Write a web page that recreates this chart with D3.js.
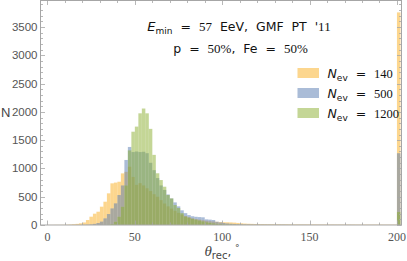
<!DOCTYPE html>
<html>
<head>
<meta charset="utf-8">
<script src="https://cdn.jsdelivr.net/npm/d3@7"></script>
<style>
  body { margin: 0; background: #fff; }
  svg { display: block; }
  tspan { white-space: pre; }
</style>
</head>
<body>
<div id="chart"></div>
<script>
// histogram bins: 2 degree wide, left edges 0..200 (200 = failed reconstructions)
var binWidth = 2;
var binEdges = d3.range(0, 201, binWidth);

var seriesNames = ["140", "500", "1200"];
var seriesColors = ["#f9ad1e", "#5579af", "#89ad2d"];

var counts140 = [2, 2, 3, 3, 4, 6, 9, 14, 20, 30, 45, 88, 147, 200, 235, 324, 412, 560, 737, 750,
  765, 913, 940, 1030, 850, 710, 740, 700, 650, 600, 545, 500, 440, 380, 330, 290, 250, 215, 185, 160,
  140, 120, 105, 95, 85, 75, 68, 62, 56, 52, 50, 48, 46, 42, 36, 30, 25, 22, 20, 18,
  17, 16, 15, 14, 14, 13, 13, 12, 12, 12, 11, 11, 11, 10, 10, 10, 10, 9, 9, 9,
  9, 9, 8, 8, 8, 8, 8, 8, 7, 7, 7, 7, 7, 7, 7, 7, 6, 6, 6, 6,
  3760];
var counts500 = [0, 0, 0, 0, 0, 0, 0, 0, 0, 1, 2, 5, 10, 20, 35, 60, 118, 194, 294, 383,
  530, 700, 1150, 1380, 1290, 1300, 1290, 1295, 1270, 1100, 970, 830, 700, 620, 540, 470, 400, 330, 260, 210,
  175, 155, 145, 140, 136, 100, 95, 88, 58, 45, 35, 28, 22, 18, 14, 11, 9, 8, 7, 6,
  6, 5, 5, 5, 4, 4, 4, 4, 3, 3, 3, 3, 3, 3, 2, 2, 2, 2, 2, 2,
  2, 2, 2, 2, 2, 2, 2, 1, 1, 1, 1, 1, 1, 1, 1, 1, 1, 1, 1, 1,
  1270];
var counts1200 = [0, 0, 0, 0, 0, 0, 0, 0, 0, 0, 0, 0, 0, 0, 0, 0, 0, 5, 15, 58,
  147, 323, 700, 1320, 1650, 1740, 1975, 2060, 1975, 1700, 1240, 915, 795, 677, 530, 470, 353, 300, 210, 150,
  130, 110, 95, 80, 65, 50, 40, 30, 22, 16, 12, 9, 7, 5, 4, 3, 3, 2, 2, 1,
  1, 1, 1, 1, 1, 1, 1, 1, 1, 0, 0, 0, 0, 0, 0, 0, 0, 0, 0, 0,
  0, 0, 0, 0, 0, 0, 0, 0, 0, 0, 0, 0, 0, 0, 0, 0, 0, 0, 0, 0,
  230];
var allCounts = [counts140, counts500, counts1200];

var xTicks = [0, 50, 100, 150, 200];
var yTicks = [0, 500, 1000, 1500, 2000, 2500, 3000, 3500];

var W = 407, H = 261;
var pLeft = 40.5, pRight = 401.5, pTop = 0.5, pBottom = 225;

var svg = d3.select("#chart").append("svg")
    .attr("width", W)
    .attr("height", H);

var x = d3.scaleLinear().domain([-4, 202.6]).range([pLeft, pRight]);
var y = d3.scaleLinear().domain([0, 3970]).range([pBottom, pTop]);

// bars, one layer per series, drawn with transparency so overlaps mix
allCounts.forEach(function(cnt, k) {
  svg.append("g")
    .selectAll("rect")
    .data(cnt)
    .enter().append("rect")
      .attr("x", function(d, i) { return x(binEdges[i]); })
      .attr("width", function(d, i) { return x(binEdges[i] + binWidth) - x(binEdges[i]); })
      .attr("y", function(d) { return y(d); })
      .attr("height", function(d) { return pBottom - y(d); })
      .attr("fill", seriesColors[k])
      .attr("fill-opacity", 0.5)
      .attr("stroke", "#ffffff")
      .attr("stroke-opacity", 0.08)
      .attr("stroke-width", 0.5);
});

// frame
var frameColor = "#a6a6a6";
svg.append("rect")
    .attr("x", pLeft).attr("y", pTop)
    .attr("width", pRight - pLeft).attr("height", pBottom - pTop)
    .attr("fill", "none")
    .attr("stroke", frameColor)
    .attr("stroke-width", 1);

var ticks = svg.append("g").attr("stroke", frameColor).attr("stroke-width", 0.8);
d3.range(0, 201, 10).forEach(function(v) {
  var len = v % 50 === 0 ? 4.5 : 2.5;
  var px = Math.round(x(v)) + 0.5;
  ticks.append("line").attr("x1", px).attr("x2", px).attr("y1", pBottom).attr("y2", pBottom - len);
  ticks.append("line").attr("x1", px).attr("x2", px).attr("y1", pTop).attr("y2", pTop + len);
});
d3.range(0, 3901, 100).forEach(function(v) {
  var len = v % 500 === 0 ? 4.5 : 2.5;
  var py = Math.round(y(v)) + 0.5;
  ticks.append("line").attr("x1", pLeft).attr("x2", pLeft + len).attr("y1", py).attr("y2", py);
  ticks.append("line").attr("x1", pRight).attr("x2", pRight - len).attr("y1", py).attr("y2", py);
});

// tick labels
svg.append("g").selectAll("text")
    .data(xTicks)
    .enter().append("text")
      .attr("x", function(d) { return x(d); })
      .attr("y", 241)
      .attr("text-anchor", "middle")
      .attr("font-family", "Liberation Serif")
      .attr("font-size", 12)
      .attr("fill", "#555")
      .text(function(d) { return d; });

svg.append("g").selectAll("text")
    .data(yTicks)
    .enter().append("text")
      .attr("x", 37.5)
      .attr("y", function(d) { return y(d) + 4; })
      .attr("text-anchor", "end")
      .attr("font-family", "Liberation Sans")
      .attr("font-size", 11.5)
      .attr("fill", "#555")
      .text(function(d) { return d; });

// axis titles
svg.append("text")
    .attr("x", 1).attr("y", 117)
    .attr("font-family", "Liberation Sans")
    .attr("font-size", 13)
    .attr("fill", "#444")
    .text("N");

function richText(px, py, parts, anchor) {
  var t = svg.append("text")
      .attr("x", px).attr("y", py)
      .attr("text-anchor", anchor || "start")
      .attr("fill", "#111");
  parts.forEach(function(p) {
    t.append("tspan")
      .attr("font-family", p.f || "DejaVu Sans")
      .attr("font-size", p.s || 12.5)
      .attr("font-style", p.i ? "italic" : "normal")
      .attr("dy", p.dy || 0)
      .text(p.t);
  });
  return t;
}

var xt = richText(222, 256, [
  {t: "θ", f: "Liberation Serif", s: 15, i: true},
  {t: "rec", f: "DejaVu Sans", s: 10, dy: 3},
  {t: ", ", f: "DejaVu Sans", s: 12, dy: -3},
  {t: "°", f: "DejaVu Sans", s: 9, dy: -5}
], "middle");
xt.attr("fill", "#444");

// annotation
richText(239, 31, [
  {t: "E", f: "DejaVu Sans", s: 13, i: true},
  {t: "min", s: 9, dy: 3},
  {t: "  =  ", dy: -3},
  {t: "57", f: "Liberation Serif", s: 13},
  {t: "  EeV,  GMF  PT  '"},
  {t: "11", f: "Liberation Serif", s: 13}
], "middle");
richText(240.5, 53, [
  {t: "p  =  "},
  {t: "50%", f: "Liberation Serif", s: 13},
  {t: ",  Fe  =  "},
  {t: "50%", f: "Liberation Serif", s: 13}
], "middle");

// legend
var legend = svg.append("g");
seriesNames.forEach(function(name, k) {
  var ly = 68 + k * 20;
  legend.append("rect")
      .attr("x", 297.5).attr("y", ly)
      .attr("width", 21.5).attr("height", 10)
      .attr("fill", seriesColors[k])
      .attr("fill-opacity", 0.5);
  richText(327.5, ly + 9.5, [
    {t: "N", f: "DejaVu Sans", s: 12.5, i: true},
    {t: "ev", s: 9, dy: 3},
    {t: "  =  ", dy: -3},
    {t: name, f: "Liberation Serif", s: 12.5}
  ]);
});
</script>
</body>
</html>
